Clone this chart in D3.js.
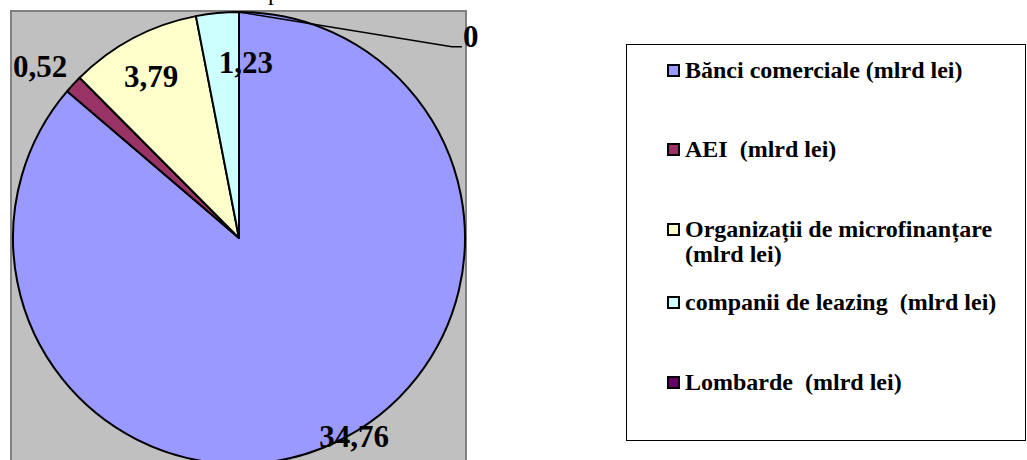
<!DOCTYPE html>
<html>
<head>
<meta charset="utf-8">
<script src="https://cdn.jsdelivr.net/npm/d3@7"></script>
<style>
  html, body { margin: 0; padding: 0; background: #ffffff; }
  svg { display: block; }
  text { font-family: "Liberation Serif", "Times New Roman", serif; font-weight: bold; fill: #000; }
</style>
</head>
<body>
<svg id="chart" width="1027" height="460"></svg>
<script>
// Structure of the financial market, values in mlrd lei
const categories = [
  "Bănci comerciale (mlrd lei)",
  "AEI  (mlrd lei)",
  "Organizații de microfinanțare (mlrd lei)",
  "companii de leazing  (mlrd lei)",
  "Lombarde  (mlrd lei)"
];
const legendLines = [
  ["Bănci comerciale (mlrd lei)"],
  ["AEI  (mlrd lei)"],
  ["Organizații de microfinanțare", "(mlrd lei)"],
  ["companii de leazing  (mlrd lei)"],
  ["Lombarde  (mlrd lei)"]
];
const values = [34.76, 0.52, 3.79, 1.23, 0];
const valueLabels = ["34,76", "0,52", "3,79", "1,23", "0"];
const colors = ["#9999FF", "#993366", "#FFFFCC", "#CCFFFF", "#660066"];

// label placement: angle shift (deg) from slice middle and distance from centre
const labelPlacement = [
  { shift: -4.1, dist: 238.6 },
  { shift: -3.8, dist: 256 },
  { shift: -2.2, dist: 175 },
  { shift: 7.9, dist: 165 },
  { shift: 50.5, dist: 300.5 }
];

const svg = d3.select("#chart");

// title, mostly above the visible area
svg.append("text")
  .attr("x", 268).attr("y", 0)
  .style("font-weight", "normal")
  .style("font-size", "24px")
  .text("p");

// plot area
const plot = { x: 11, y: 11, w: 455, h: 470 };
svg.append("rect")
  .attr("x", plot.x).attr("y", plot.y)
  .attr("width", plot.w).attr("height", plot.h)
  .attr("fill", "#C0C0C0")
  .attr("stroke", "#808080")
  .attr("stroke-width", 2);

const cx = 239, cy = 238, radius = 226;
const g = svg.append("g").attr("transform", `translate(${cx},${cy})`);

const pie = d3.pie().sort(null).value(d => d)
  .startAngle(0).endAngle(2 * Math.PI);
const arcs = pie(values);
const arc = d3.arc().innerRadius(0).outerRadius(radius);

g.selectAll("path.slice")
  .data(arcs)
  .join("path")
  .attr("class", "slice")
  .attr("d", arc)
  .attr("fill", (d, i) => colors[i])
  .attr("stroke", "#000")
  .attr("stroke-width", 2)
  .attr("stroke-linejoin", "round");

const toRad = Math.PI / 180;
const labelPos = arcs.map((d, i) => {
  const mid = (d.startAngle + d.endAngle) / 2 + labelPlacement[i].shift * toRad;
  const r = labelPlacement[i].dist;
  return [r * Math.sin(mid), -r * Math.cos(mid)];
});

// leader line for the zero slice
arcs.forEach((d, i) => {
  if (d.data === 0) {
    const a = d.startAngle;
    const p0 = [radius * Math.sin(a), -radius * Math.cos(a)];
    const [lx, ly] = labelPos[i];
    g.append("polyline")
      .attr("points", [p0, [lx - 19, ly], [lx - 9, ly]].map(p => p.join(",")).join(" "))
      .attr("fill", "none")
      .attr("stroke", "#000")
      .attr("stroke-width", 1.5);
  }
});

g.selectAll("text.val")
  .data(arcs)
  .join("text")
  .attr("class", "val")
  .attr("x", (d, i) => labelPos[i][0])
  .attr("y", (d, i) => labelPos[i][1])
  .attr("text-anchor", "middle")
  .style("font-size", "31px")
  .text((d, i) => valueLabels[i]);

// legend
const legend = svg.append("g");
legend.append("rect")
  .attr("x", 626.5).attr("y", 44.5)
  .attr("width", 399).attr("height", 396)
  .attr("fill", "#fff")
  .attr("stroke", "#000")
  .attr("stroke-width", 1);

const rowBaselines = [78, 157, 237, 310, 390];
const textX = 685;
legendLines.forEach((lines, i) => {
  const by = rowBaselines[i];
  legend.append("rect")
    .attr("x", 668).attr("y", by - 13)
    .attr("width", 11).attr("height", 11)
    .attr("fill", colors[i])
    .attr("stroke", "#000")
    .attr("stroke-width", 2);
  const t = legend.append("text")
    .attr("x", textX).attr("y", by)
    .attr("xml:space", "preserve")
    .style("white-space", "pre")
    .style("font-size", "24px");
  lines.forEach((ln, j) => {
    t.append("tspan")
      .attr("x", textX)
      .attr("dy", j === 0 ? 0 : 25)
      .text(ln);
  });
});
</script>
</body>
</html>
